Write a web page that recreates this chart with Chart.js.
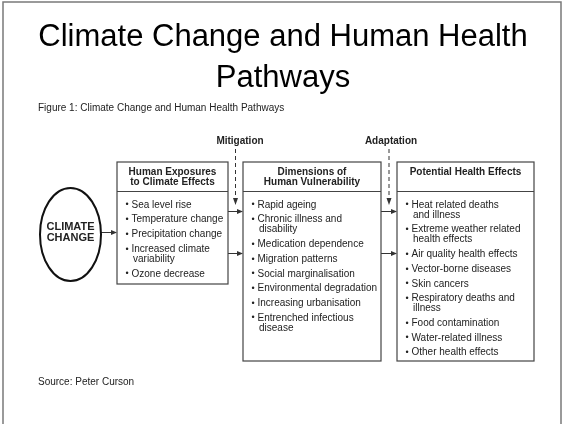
<!DOCTYPE html>
<html>
<head>
<meta charset="utf-8">
<script src="https://cdn.jsdelivr.net/npm/chart.js@4.4.1/dist/chart.umd.min.js"></script>
<style>
html,body{margin:0;padding:0;background:#fff;}
#c{display:block;}
</style>
</head>
<body>
<canvas id="c" width="564" height="424"></canvas>
<script>
// ---- content ----
const titleLines = ["Climate Change and Human Health", "Pathways"];
const caption = "Figure 1: Climate Change and Human Health Pathways";
const sourceNote = "Source: Peter Curson";
const driverLabel = ["CLIMATE", "CHANGE"];
const influenceLabels = ["Mitigation", "Adaptation"];
const boxHeaders = [
  ["Human Exposures", "to Climate Effects"],
  ["Dimensions of", "Human Vulnerability"],
  ["Potential Health Effects"]
];
const exposures = [
  ["Sea level rise"],
  ["Temperature change"],
  ["Precipitation change"],
  ["Increased climate", "variability"],
  ["Ozone decrease"]
];
const vulnerability = [
  ["Rapid ageing"],
  ["Chronic illness and", "disability"],
  ["Medication dependence"],
  ["Migration patterns"],
  ["Social marginalisation"],
  ["Environmental degradation"],
  ["Increasing urbanisation"],
  ["Entrenched infectious", "disease"]
];
const healthEffects = [
  ["Heat related deaths", "and illness"],
  ["Extreme weather related", "health effects"],
  ["Air quality health effects"],
  ["Vector-borne diseases"],
  ["Skin cancers"],
  ["Respiratory deaths and", "illness"],
  ["Food contamination"],
  ["Water-related illness"],
  ["Other health effects"]
];
const boxItems = [exposures, vulnerability, healthEffects];

// ---- layout (pixel-space of the slide, mapped through the chart scales) ----
const FONT = "'Liberation Sans', Arial, Helvetica, sans-serif";
const boxes = [
  {x0: 117, x1: 228, y0: 162, y1: 284},
  {x0: 243, x1: 381, y0: 162, y1: 361},
  {x0: 397, x1: 534, y0: 162, y1: 361}
];
const headerBottom = 191.5;

const diagramPlugin = {
  id: 'diagram',
  afterDraw(chart) {
    const ctx = chart.ctx;
    const X = v => chart.scales.x.getPixelForValue(v);
    const Y = v => chart.scales.y.getPixelForValue(v);
    ctx.save();

    // slide frame
    ctx.strokeStyle = '#7a7a7a';
    ctx.lineWidth = 1.5;
    ctx.beginPath();
    ctx.moveTo(X(3), Y(430)); ctx.lineTo(X(3), Y(2)); ctx.lineTo(X(561), Y(2)); ctx.lineTo(X(561), Y(430));
    ctx.stroke();

    // title
    ctx.fillStyle = '#000';
    ctx.textAlign = 'center';
    ctx.textBaseline = 'alphabetic';
    ctx.font = `31px ${FONT}`;
    ctx.fillText(titleLines[0], X(283), Y(46));
    ctx.fillText(titleLines[1], X(283), Y(87));

    // caption & source
    ctx.fillStyle = '#222';
    ctx.textAlign = 'left';
    ctx.textBaseline = 'middle';
    ctx.font = `10px ${FONT}`;
    ctx.fillText(caption, X(38), Y(108));
    ctx.fillText(sourceNote, X(38), Y(382));

    // influence labels + dashed arrows
    ctx.font = `bold 10px ${FONT}`;
    ctx.textAlign = 'center';
    ctx.fillText(influenceLabels[0], X(240), Y(141));
    ctx.fillText(influenceLabels[1], X(391), Y(141));

    const dashX = [235.5, 389];
    ctx.strokeStyle = '#333';
    ctx.lineWidth = 1;
    dashX.forEach(dx => {
      ctx.setLineDash([4, 3]);
      ctx.beginPath();
      ctx.moveTo(X(dx), Y(149));
      ctx.lineTo(X(dx), Y(199));
      ctx.stroke();
      ctx.setLineDash([]);
      ctx.fillStyle = '#333';
      ctx.beginPath();
      ctx.moveTo(X(dx - 2.5), Y(198));
      ctx.lineTo(X(dx + 2.5), Y(198));
      ctx.lineTo(X(dx), Y(205));
      ctx.closePath();
      ctx.fill();
    });

    // horizontal arrows
    function arrow(xa, xb, y) {
      ctx.strokeStyle = '#333';
      ctx.lineWidth = 1;
      ctx.beginPath();
      ctx.moveTo(X(xa), Y(y) + 0.5);
      ctx.lineTo(X(xb - 5), Y(y) + 0.5);
      ctx.stroke();
      ctx.fillStyle = '#333';
      ctx.beginPath();
      ctx.moveTo(X(xb - 6), Y(y - 2.5) + 0.5);
      ctx.lineTo(X(xb), Y(y) + 0.5);
      ctx.lineTo(X(xb - 6), Y(y + 2.5) + 0.5);
      ctx.closePath();
      ctx.fill();
    }
    arrow(101, 117, 232);
    arrow(228, 243, 211);
    arrow(228, 243, 253);
    arrow(381, 397, 211);
    arrow(381, 397, 253);

    // ellipse
    ctx.strokeStyle = '#111';
    ctx.lineWidth = 2;
    ctx.beginPath();
    ctx.ellipse(X(70.5), Y(234.5), X(101) - X(70.5), Y(281) - Y(234.5), 0, 0, Math.PI * 2);
    ctx.stroke();
    ctx.fillStyle = '#222';
    ctx.font = `bold 11px ${FONT}`;
    ctx.textAlign = 'center';
    ctx.fillText(driverLabel[0], X(70.5), Y(227));
    ctx.fillText(driverLabel[1], X(70.5), Y(237.5));

    // boxes
    boxes.forEach((b, i) => {
      ctx.strokeStyle = '#444';
      ctx.lineWidth = 1.2;
      ctx.strokeRect(X(b.x0), Y(b.y0), X(b.x1) - X(b.x0), Y(b.y1) - Y(b.y0));
      ctx.beginPath();
      ctx.moveTo(X(b.x0), Y(headerBottom));
      ctx.lineTo(X(b.x1), Y(headerBottom));
      ctx.stroke();

      ctx.fillStyle = '#222';
      ctx.font = `bold 10px ${FONT}`;
      ctx.textAlign = 'center';
      boxHeaders[i].forEach((h, k) => {
        ctx.fillText(h, X((b.x0 + b.x1) / 2), Y(172.5 + k * 10));
      });

      let y = 205;
      boxItems[i].forEach(item => {
        ctx.font = `9px ${FONT}`;
        ctx.textAlign = 'left';
        ctx.fillText('\u2022', X(b.x0 + 8.5), Y(y));
        ctx.font = `10px ${FONT}`;
        item.forEach((ln, k) => {
          ctx.fillText(ln, X(b.x0 + (k === 0 ? 14.5 : 16)), Y(y + k * 10));
        });
        y += 14.7 + 10 * (item.length - 1);
      });
    });

    ctx.restore();
  }
};

new Chart(document.getElementById('c'), {
  type: 'scatter',
  data: { datasets: [] },
  options: {
    responsive: false,
    devicePixelRatio: 1,
    animation: false,
    layout: { padding: 0 },
    scales: {
      x: { type: 'linear', min: 0, max: 564, display: false },
      y: { type: 'linear', min: 0, max: 424, reverse: true, display: false }
    },
    plugins: { legend: { display: false }, tooltip: { enabled: false }, title: { display: false } }
  },
  plugins: [diagramPlugin]
});
</script>
</body>
</html>
